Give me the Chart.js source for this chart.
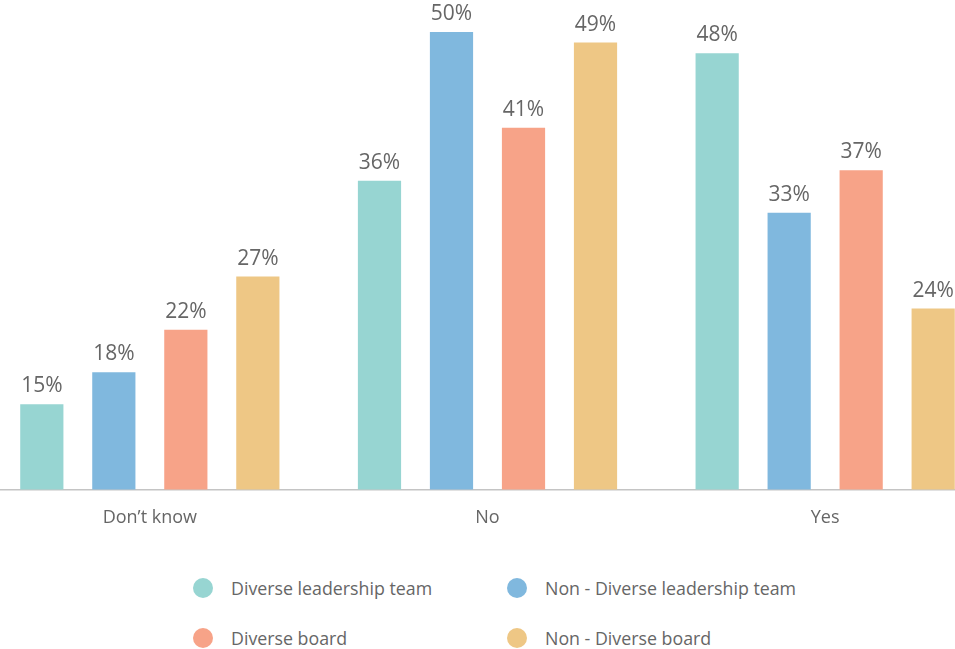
<!DOCTYPE html>
<html>
<head>
<meta charset="utf-8">
<script src="https://cdn.jsdelivr.net/npm/chart.js@4"></script>
<style>
  html, body { margin: 0; padding: 0; background: #fff; overflow: hidden; }
  body { width: 955px; height: 649px; position: relative; font-family: "Open Sans", sans-serif; }
  #chartWrap { position: absolute; left: -19px; top: 0; width: 1013px; height: 539px; }
  #legend {
    position: absolute; left: 193px; top: 563px;
    display: grid; grid-template-columns: 314px auto; grid-auto-rows: 50px;
  }
  .item { display: flex; align-items: center; color: #666; font-size: 17.8px; }
  .dot { width: 20px; height: 20px; border-radius: 50%; margin-right: 18px; flex: none; }
</style>
</head>
<body>
<div id="chartWrap"><canvas id="surveyChart"></canvas></div>
<div id="legend"></div>

<script>
const categories = ["Don\u2019t know", "No", "Yes"];
const diverseLeadership = [15, 36, 48];
const nonDiverseLeadership = [18, 50, 33];
const diverseBoard = [22, 41, 37];
const nonDiverseBoard = [27, 49, 24];

const seriesNames = ["Diverse leadership team", "Non - Diverse leadership team", "Diverse board", "Non - Diverse board"];
const seriesColors = ["#97d5d2", "#80b8de", "#f7a388", "#eec785"];

// writes the percentage above every bar
const valueLabels = {
    id: "valueLabels",
    afterDatasetsDraw(chart) {
        const ctx = chart.ctx;
        ctx.save();
        ctx.font = "21px 'Open Sans'";
        ctx.fillStyle = "#666";
        ctx.textAlign = "center";
        ctx.textBaseline = "alphabetic";
        chart.data.datasets.forEach((ds, i) => {
            chart.getDatasetMeta(i).data.forEach((bar, j) => {
                ctx.fillText(ds.data[j] + "%", bar.x, bar.y - 12);
            });
        });
        ctx.restore();
    }
};

const chart = new Chart(document.getElementById("surveyChart"), {
    type: "bar",
    data: {
        labels: categories,
        datasets: [diverseLeadership, nonDiverseLeadership, diverseBoard, nonDiverseBoard].map((d, i) => ({
            label: seriesNames[i],
            data: d,
            backgroundColor: seriesColors[i],
            categoryPercentage: 0.853,
            barPercentage: 0.6
        }))
    },
    options: {
        responsive: true,
        maintainAspectRatio: false,
        animation: false,
        layout: { padding: 0 },
        plugins: { legend: { display: false }, tooltip: { enabled: false } },
        scales: {
            x: {
                grid: { display: false },
                border: { display: true, color: "#c4c4c4", width: 1.5 },
                ticks: { color: "#666", font: { family: "Open Sans", size: 18 }, padding: 10 }
            },
            y: { display: false, min: 7, max: 53 }
        }
    },
    plugins: [valueLabels]
});

// legend in two columns, built from the datasets
const legend = document.getElementById("legend");
chart.data.datasets.forEach(ds => {
    legend.innerHTML += `
    <div class="item"><span class="dot" style="background:${ds.backgroundColor}"></span>${ds.label}</div>`;
});
</script>
</body>
</html>
